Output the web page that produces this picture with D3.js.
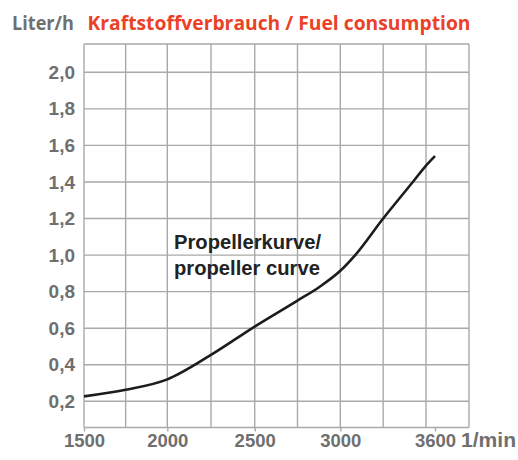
<!DOCTYPE html>
<html><head><meta charset="utf-8">
<script src="https://cdn.jsdelivr.net/npm/d3@7"></script>
<style>body{margin:0;background:#fff}svg{display:block}</style>
</head><body>
<svg id="c" width="518" height="460"></svg>
<script>
// Data: propeller curve fuel consumption (rpm, liter/h)
const rpm  = [1500, 1750, 2000, 2250, 2500, 2750, 2880, 3000, 3087, 3250, 3423, 3500, 3600];
const fuel = [0.227, 0.263, 0.32, 0.454, 0.609, 0.751, 0.827, 0.914, 1.0, 1.2, 1.4, 1.49, 1.542];
const xTickValues = [1500, 2000, 2500, 3000, 3600];
const xTickLabels = ["1500", "2000", "2500", "3000", "3600"];
const yTickValues = [0.2, 0.4, 0.6, 0.8, 1.0, 1.2, 1.4, 1.6, 1.8, 2.0];
const xGridValues = [1500, 1750, 2000, 2250, 2500, 2750, 3000, 3250, 3500, 3750];
const unitY = "Liter/h";
const title = "Kraftstoffverbrauch / Fuel consumption";
const unitX = "1/min";
const curveLabel = ["Propellerkurve/", "propeller curve"];

const svg = d3.select("#c");
const L = 84, R = 469, T = 44, B = 427.5;

// the original axis is not strictly linear (3600 sits before the 3500-3750 cell midpoint)
const x = d3.scaleLinear()
  .domain([1500, 2000, 2500, 3000, 3500, 3600, 3750])
  .range([84, 167.3, 254.7, 340.3, 426, 435, 469]);
const y = d3.scaleLinear().domain([0.2, 2.0]).range([401.3, 72.3]);

const grid = "#a9a9a9";
const g = svg.append("g");
g.selectAll(".hg").data(yTickValues).join("line")
  .attr("x1", L).attr("x2", R).attr("y1", d => y(d)).attr("y2", d => y(d))
  .attr("stroke", grid).attr("stroke-width", 1.4);
g.selectAll(".vg").data(xGridValues).join("line")
  .attr("x1", d => x(d)).attr("x2", d => x(d)).attr("y1", T).attr("y2", B)
  .attr("stroke", grid).attr("stroke-width", 1.4);
g.append("line").attr("x1", L).attr("x2", R).attr("y1", T).attr("y2", T).attr("stroke", grid).attr("stroke-width", 1.4);
g.append("line").attr("x1", L).attr("x2", R).attr("y1", B).attr("y2", B).attr("stroke", grid).attr("stroke-width", 1.4);

const labFont = "Liberation Sans, Arial, sans-serif";
// x axis ticks + labels
const xAxis = d3.axisBottom(x).tickValues(xTickValues).tickSize(4).tickPadding(5)
  .tickFormat((d, i) => xTickLabels[i]);
const xa = svg.append("g").attr("transform", `translate(0,${B})`).call(xAxis);
xa.select(".domain").remove();
xa.selectAll("line").attr("stroke", grid).attr("stroke-width", 1.4);
xa.selectAll("text").attr("fill", "#6f6f6f").attr("font-family", labFont)
  .attr("font-weight", "bold").attr("font-size", 18.5).attr("dy", "0.59em");

// y axis labels
const yAxis = d3.axisLeft(y).tickValues(yTickValues).tickSize(0).tickPadding(9)
  .tickFormat(d => d3.format(".1f")(d).replace(".", ","));
const ya = svg.append("g").attr("transform", `translate(${L},0)`).call(yAxis);
ya.select(".domain").remove();
ya.selectAll("text").attr("fill", "#6f6f6f").attr("font-family", labFont)
  .attr("font-weight", "bold").attr("font-size", 19);

// unit x
svg.append("text").attr("x", x(3600) + 26).attr("y", 447.3)
  .attr("fill", "#6f6f6f").attr("font-family", labFont)
  .attr("font-weight", "bold").attr("font-size", 19.5)
  .attr("textLength", 55).attr("lengthAdjust", "spacingAndGlyphs").text(unitX);

// title
svg.append("text").attr("x", 12).attr("y", 29.5).attr("fill", "#6f6f6f")
  .attr("font-family", "Open Sans, sans-serif").attr("font-weight", 700).attr("font-size", 19.5)
  .attr("textLength", 62).attr("lengthAdjust", "spacingAndGlyphs").text(unitY);
svg.append("text").attr("x", 87.5).attr("y", 29.5).attr("fill", "#ea4128")
  .attr("font-family", "Open Sans, sans-serif").attr("font-weight", 700).attr("font-size", 19.5)
  .attr("textLength", 383).attr("lengthAdjust", "spacingAndGlyphs").text(title);

// curve
const data = rpm.map((r, i) => ({r, v: fuel[i]}));
svg.append("path").datum(data)
  .attr("fill", "none").attr("stroke", "#1c1c1c").attr("stroke-width", 2.6)
  .attr("d", d3.line().x(d => x(d.r)).y(d => y(d.v)).curve(d3.curveMonotoneX));

// curve label
svg.selectAll(".cl").data(curveLabel).join("text")
  .attr("x", 174).attr("y", (d, i) => 248.5 + i * 26)
  .attr("fill", "#222").attr("font-family", labFont)
  .attr("font-weight", "bold").attr("font-size", 20.2).text(d => d);
</script>
</body></html>
